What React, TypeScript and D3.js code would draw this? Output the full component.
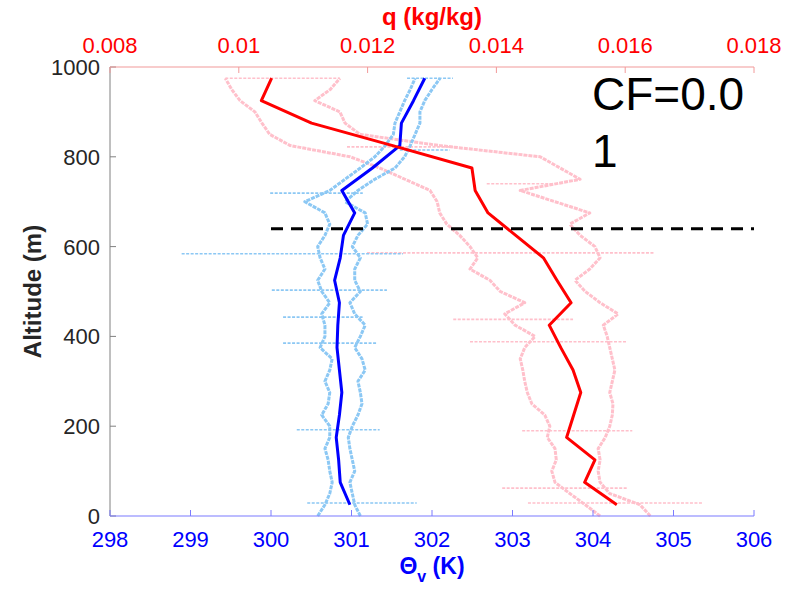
import React from "react";
import * as d3 from "d3";

// ---- Data ----
const meanAlt = [25, 75, 125, 175, 225, 275, 325, 375, 425, 475, 525, 575, 625, 675, 725, 775, 825, 875, 925, 975];
const meanTheta = [300.98, 300.86, 300.84, 300.81, 300.85, 300.88, 300.85, 300.82, 300.83, 300.85, 300.79, 300.86, 300.9, 301.04, 300.88, 301.26, 301.6, 301.62, 301.77, 301.91];
const meanQ = [0.01587, 0.01537, 0.01553, 0.01509, 0.0152, 0.01531, 0.01519, 0.015, 0.01482, 0.01516, 0.01494, 0.01473, 0.0143, 0.01387, 0.01367, 0.01362, 0.01239, 0.01113, 0.01035, 0.01051];

const traceAlt = [0, 25, 50, 75, 100, 125, 150, 175, 200, 225, 250, 275, 300, 325, 350, 375, 400, 425, 450, 475, 500, 525, 550, 575, 600, 625, 650, 675, 700, 725, 750, 775, 800, 825, 850, 875, 900, 925, 950, 975];
const thetaTraceA = [300.58, 300.67, 300.73, 300.76, 300.73, 300.71, 300.67, 300.73, 300.73, 300.63, 300.71, 300.73, 300.67, 300.73, 300.76, 300.61, 300.67, 300.67, 300.63, 300.73, 300.63, 300.58, 300.67, 300.61, 300.58, 300.67, 300.73, 300.67, 300.42, 300.73, 300.92, 301.11, 301.29, 301.42, 301.52, 301.54, 301.6, 301.66, 301.73, 301.79];
const thetaTraceB = [301.11, 301.04, 301.01, 300.98, 301.04, 301.01, 300.98, 300.96, 301.01, 301.08, 301.13, 301.11, 301.08, 301.17, 301.13, 301.04, 301.11, 301.17, 301.04, 300.98, 301.11, 301.04, 301.04, 301.11, 301.01, 301.08, 301.2, 301.17, 300.92, 301.08, 301.29, 301.54, 301.66, 301.73, 301.79, 301.85, 301.85, 301.91, 302.0, 302.1];
const qTraceA = [0.01561, 0.01538, 0.01514, 0.01491, 0.01486, 0.01493, 0.01491, 0.01479, 0.01483, 0.01475, 0.01455, 0.01448, 0.01444, 0.01441, 0.01437, 0.01444, 0.0146, 0.01429, 0.01413, 0.01444, 0.01406, 0.0139, 0.01359, 0.01371, 0.01359, 0.01343, 0.01323, 0.01312, 0.01308, 0.01297, 0.01258, 0.01219, 0.01173, 0.0108, 0.01048, 0.01036, 0.01025, 0.01002, 0.00989, 0.00979];
const qTraceB = [0.01639, 0.01623, 0.01576, 0.01561, 0.01558, 0.01561, 0.01558, 0.01569, 0.01576, 0.0158, 0.01581, 0.01576, 0.0158, 0.01584, 0.0158, 0.01576, 0.01572, 0.01566, 0.01589, 0.01561, 0.01538, 0.01522, 0.01545, 0.01561, 0.01553, 0.0153, 0.01514, 0.01545, 0.01491, 0.01437, 0.0153, 0.01499, 0.01468, 0.01312, 0.01188, 0.01165, 0.01157, 0.01118, 0.01142, 0.01157];

// horizontal excursions: [altitude, min, max]
const thetaSpikes: [number, number, number][] = [
  [584, 298.89, 301.64], [503, 300.01, 301.44], [385, 300.15, 301.32], [192, 300.32, 301.35],
  [29, 300.45, 301.81], [719, 299.99, 301.14], [443, 300.15, 301.14], [975, 301.69, 302.26], [815, 301.6, 302.22],
];
const qSpikes: [number, number, number][] = [
  [586, 0.01199, 0.01646], [438, 0.01333, 0.01519], [388, 0.01359, 0.01603], [190, 0.0144, 0.01611],
  [62, 0.01409, 0.01603], [29, 0.01449, 0.01721], [975, 0.00979, 0.01157], [822, 0.01168, 0.01333], [740, 0.01385, 0.01488],
];

const cloudTop = 640;
const thetaTicks = [298, 299, 300, 301, 302, 303, 304, 305, 306];
const qTicks = [0.008, 0.01, 0.012, 0.014, 0.016, 0.018];
const qTickLabels = ["0.008", "0.01", "0.012", "0.014", "0.016", "0.018"];
const altTicks = [0, 200, 400, 600, 800, 1000];

const FONT = "'Liberation Sans', Arial, Helvetica, sans-serif";

export default function App() {
  const L = 110, R = 754, T = 67, B = 516;
  const x = d3.scaleLinear().domain([298, 306]).range([L, R]);
  const xq = d3.scaleLinear().domain([0.008, 0.018]).range([L, R]);
  const y = d3.scaleLinear().domain([0, 1000]).range([B, T]);

  const lineT = (vals: number[], alts: number[]) =>
    d3.line<number>().x((v) => x(v)).y((_, i) => y(alts[i]))(vals) || "";
  const lineQ = (vals: number[], alts: number[]) =>
    d3.line<number>().x((v) => xq(v)).y((_, i) => y(alts[i]))(vals) || "";

  const pink = "#ffc0cb";
  const sky = "#8cc8f4";

  return (
    <svg width={785} height={596} style={{ position: "absolute", left: 0, top: 0, display: "block", background: "#fff" }} fontFamily={FONT}>
      {/* q cloud */}
      <g fill="none" stroke={pink} strokeLinejoin="round">
        {qSpikes.map((s, i) => (
          <line key={i} x1={xq(s[1])} x2={xq(s[2])} y1={y(s[0])} y2={y(s[0])} strokeWidth={1.6} strokeDasharray="3 1.5" />
        ))}
        <path d={lineQ(qTraceA, traceAlt)} strokeWidth={3} strokeDasharray="4 1" />
        <path d={lineQ(qTraceB, traceAlt)} strokeWidth={3} strokeDasharray="4 1" />
      </g>
      {/* theta cloud */}
      <g fill="none" stroke={sky} strokeLinejoin="round">
        {thetaSpikes.map((s, i) => (
          <line key={i} x1={x(s[1])} x2={x(s[2])} y1={y(s[0])} y2={y(s[0])} strokeWidth={1.6} strokeDasharray="3 1.5" />
        ))}
        <path d={lineT(thetaTraceA, traceAlt)} strokeWidth={3} strokeDasharray="4 1" />
        <path d={lineT(thetaTraceB, traceAlt)} strokeWidth={3} strokeDasharray="4 1" />
      </g>

      {/* mean profiles */}
      <path d={lineT(meanTheta, meanAlt)} fill="none" stroke="#0000ff" strokeWidth={3} strokeLinejoin="round" />
      <path d={lineQ(meanQ, meanAlt)} fill="none" stroke="#ff0000" strokeWidth={3} strokeLinejoin="round" />

      {/* cloud-top dashed line */}
      <line x1={x(300)} x2={x(306)} y1={y(cloudTop)} y2={y(cloudTop)} stroke="#000" strokeWidth={3} strokeDasharray="12 8" />

      {/* left axis */}
      <line x1={L} x2={L} y1={T} y2={B} stroke="#808080" strokeWidth={1} />
      {altTicks.map((t) => (
        <g key={t}>
          <line x1={L} x2={L + 6} y1={y(t)} y2={y(t)} stroke="#808080" />
          <text x={L - 10} y={y(t)} dy="0.36em" textAnchor="end" fontSize={22} fill="#262626">{t}</text>
        </g>
      ))}
      <text transform={`translate(41,${(T + B) / 2}) rotate(-90)`} textAnchor="middle" fontSize={24} fontWeight="bold" fill="#262626">Altitude (m)</text>

      {/* bottom axis */}
      <line x1={L} x2={R} y1={B} y2={B} stroke="#7b7bff" strokeWidth={1.2} />
      {thetaTicks.map((t) => (
        <g key={t}>
          <line x1={x(t)} x2={x(t)} y1={B} y2={B - 6} stroke="#7b7bff" />
          <text x={x(t)} y={547} textAnchor="middle" fontSize={22} fill="#0000ff">{t}</text>
        </g>
      ))}
      <text x={(L + R) / 2} y={574} textAnchor="middle" fontSize={23} fontWeight="bold" fill="#0000ff">
        Θ<tspan fontSize={16} dy={8}>v</tspan><tspan dy={-8}> (K)</tspan>
      </text>

      {/* top axis */}
      <line x1={L} x2={R} y1={T} y2={T} stroke="#f29a9a" strokeWidth={1.2} />
      {qTicks.map((t, i) => (
        <g key={t}>
          <line x1={xq(t)} x2={xq(t)} y1={T} y2={T + 6} stroke="#f29a9a" />
          <text x={xq(t)} y={53} textAnchor="middle" fontSize={22} fill="#ff0000">{qTickLabels[i]}</text>
        </g>
      ))}
      <text x={(L + R) / 2} y={25} textAnchor="middle" fontSize={24} fontWeight="bold" fill="#ff0000">q (kg/kg)</text>

      {/* annotation */}
      <text x={592} y={110} fontSize={46} fill="#000">CF=0.0</text>
      <text x={592} y={167} fontSize={46} fill="#000">1</text>
    </svg>
  );
}
